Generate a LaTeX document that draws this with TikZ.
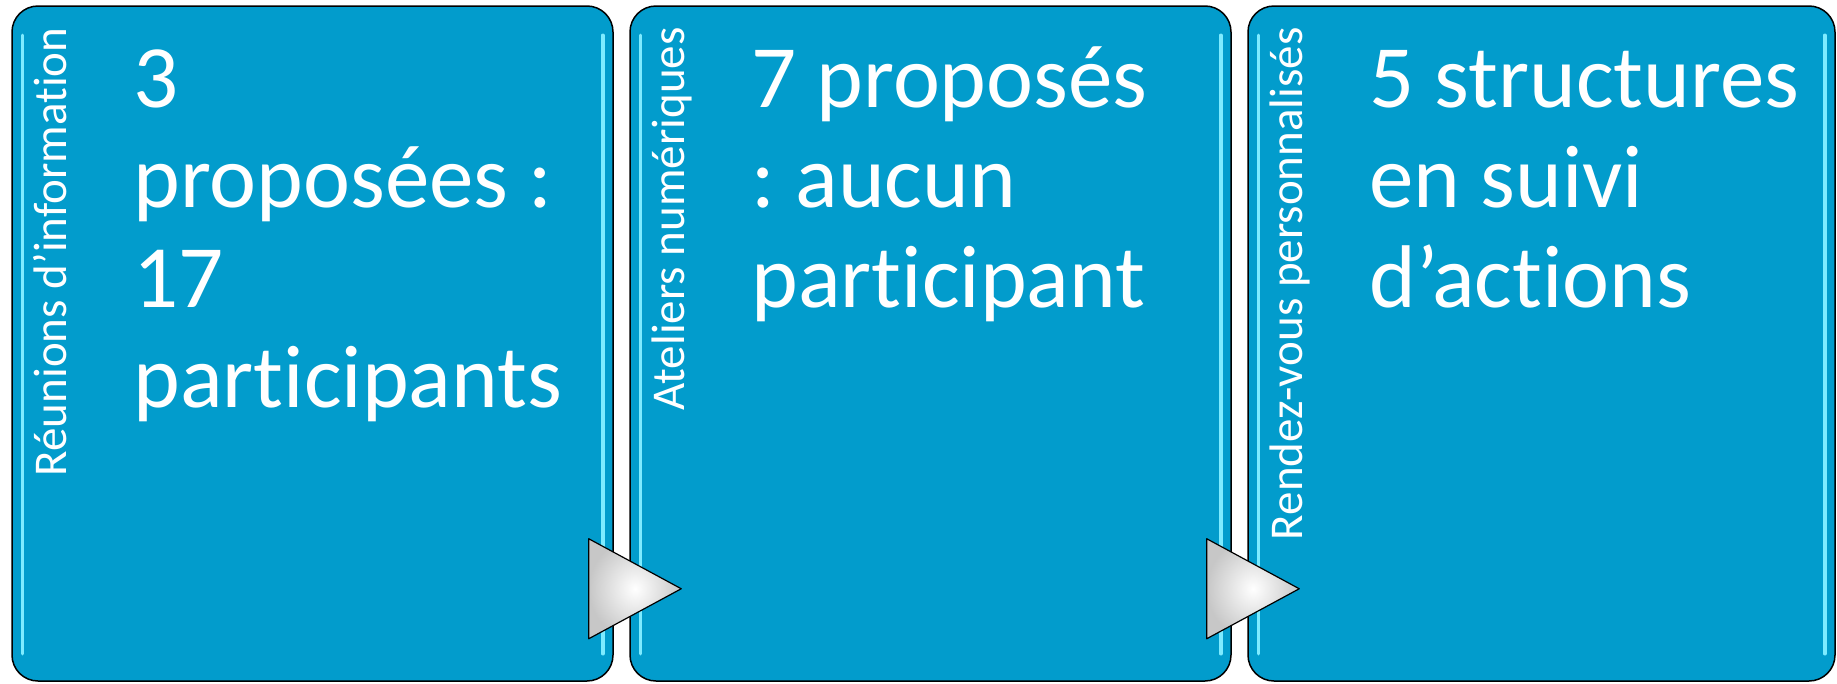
\documentclass[tikz,border=0pt]{standalone}
\usepackage{fontspec}
\setmainfont{Carlito}[Ligatures=NoCommon]
\usetikzlibrary{calc}
\definecolor{stageblue}{HTML}{029CCC}
\definecolor{glowcyan}{HTML}{7EEBFF}
\frenchspacing

\begin{document}
\begin{tikzpicture}[x=1pt,y=1pt,
    stage/.style={draw=black, line width=1.5pt, fill=stageblue, rounded corners=26pt,
        minimum height=675pt, inner sep=0pt},
    glow/.style={draw=glowcyan, line width=3.5pt, line cap=round},
    title/.style={rotate=90, anchor=base east, inner sep=0pt, text=white,
        font=\fontsize{47}{56}\selectfont},
    facts/.style={anchor=base west, align=left, inner sep=0pt, text=white,
        font=\fontsize{89}{100}\selectfont},
    pointer/.style={draw=black, line width=1.2pt, line join=round,
        inner color=white, outer color=black!22}]

    \useasboundingbox (0,0) rectangle (1837,-683);

    % the three stages
    \node[stage, minimum width=601pt] (reunions) at (312.5,-343.5) {};
    \node[stage, minimum width=601pt] (ateliers) at (930.5,-343.5) {};
    \node[stage, minimum width=587pt] (rdv) at (1541.5,-343.5) {};

    \foreach \stage in {reunions,ateliers,rdv} {
        \draw[glow] ($(\stage.north west)+(11,-30)$) -- ($(\stage.south west)+(11,28)$);
        \draw[glow] ($(\stage.north east)+(-11,-30)$) -- ($(\stage.south east)+(-11,28)$);
    }

    % side titles
    \node[title] (reunionsT) at ($(reunions.north west)+(55,-22)$) {Réunions d’information};
    \node[title] (ateliersT) at ($(ateliers.north west)+(55,-22)$) {Ateliers numériques};
    \node[title] (rdvT) at ($(rdv.north west)+(55,-22)$) {Rendez-vous personnalisés};

    % figures (anchored on the last line)
    \node[facts] (reunionsF) at ($(reunions.north west)+(122,-402)$) {3\\proposées :\\17\\participants};
    \node[facts] (ateliersF) at ($(ateliers.north west)+(122,-302)$) {7 proposés\\: aucun\\participant};
    \node[facts] (rdvF) at ($(rdv.north west)+(122,-302)$) {5 structures\\en suivi\\d’actions};

    % pointers between stages
    \foreach \first/\next in {reunions/ateliers, ateliers/rdv}
        \path[pointer] ($(\first.south east)+(-25,43)$) -- ($(\first.south east)+(-25,143)$)
            -- ($(\next.south west)+(52,93)$) -- cycle;
\end{tikzpicture}
\end{document}
